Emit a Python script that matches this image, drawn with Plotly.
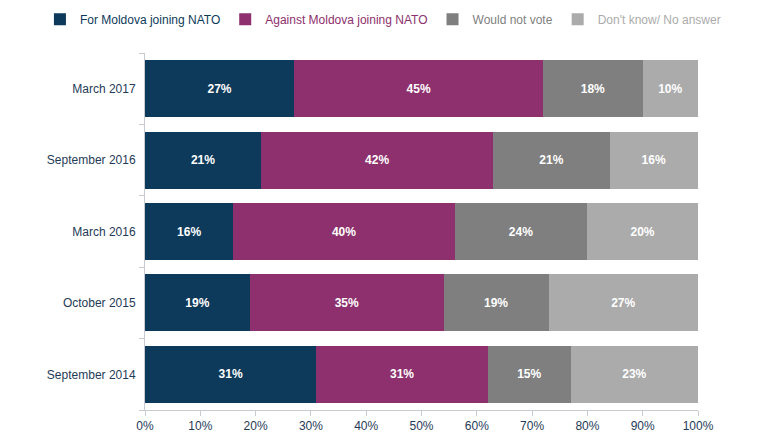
import plotly.graph_objects as go

categories = ["September 2014", "October 2015", "March 2016", "September 2016", "March 2017"]
for_nato = [31, 19, 16, 21, 27]
against_nato = [31, 35, 40, 42, 45]
would_not_vote = [15, 19, 24, 21, 18]
dont_know = [23, 27, 20, 16, 10]

series = [
    ("For Moldova joining NATO", for_nato, "#0d3a5a"),
    ("Against Moldova joining NATO", against_nato, "#8d306d"),
    ("Would not vote", would_not_vote, "#7f7f7f"),
    ("Don't know/ No answer", dont_know, "#ababab"),
]

fig = go.Figure()
for name, vals, col in series:
    fig.add_trace(go.Bar(
        y=categories, x=vals, orientation="h",
        name=f"<span style='color:{col}'>{name}</span>",
        marker=dict(color=col, line=dict(width=0)),
        text=[f"<b>{v}%</b>" for v in vals], textposition="inside",
        insidetextanchor="middle",
        textfont=dict(color="white", size=12, family="Liberation Sans"),
        width=0.8,
    ))

fig.update_layout(
    barmode="stack",
    width=770, height=433,
    margin=dict(l=145, r=72, t=53, b=23, autoexpand=False),
    paper_bgcolor="white", plot_bgcolor="white",
    font=dict(family="Liberation Sans", size=12, color="#1f3b57"),
    legend=dict(orientation="h", xref="paper", yref="paper",
                x=-0.19, y=1.135, xanchor="left", yanchor="top",
                font=dict(size=12), traceorder="normal",
                itemwidth=30, tracegroupgap=0,
                bgcolor="rgba(0,0,0,0)"),
    showlegend=True,
)
fig.update_xaxes(range=[0, 100], tickvals=list(range(0, 101, 10)),
                 ticktext=[f"{v}%" for v in range(0, 101, 10)],
                 showgrid=False, showline=True, linecolor="#c8cbd0",
                 ticks="outside", tickcolor="#c8cbd0", ticklen=5,
                 tickfont=dict(size=12, color="#1f3b57"), zeroline=False,
                 automargin=False)
fig.update_yaxes(showgrid=False, showline=True, linecolor="#c8cbd0",
                 ticks="outside", tickson="boundaries", tickcolor="#c8cbd0",
                 ticklen=5, tickfont=dict(size=12, color="#1f3b57"),
                 ticklabelstandoff=6, range=[-0.5, 4.5], automargin=False)

fig.write_html("out.html")
